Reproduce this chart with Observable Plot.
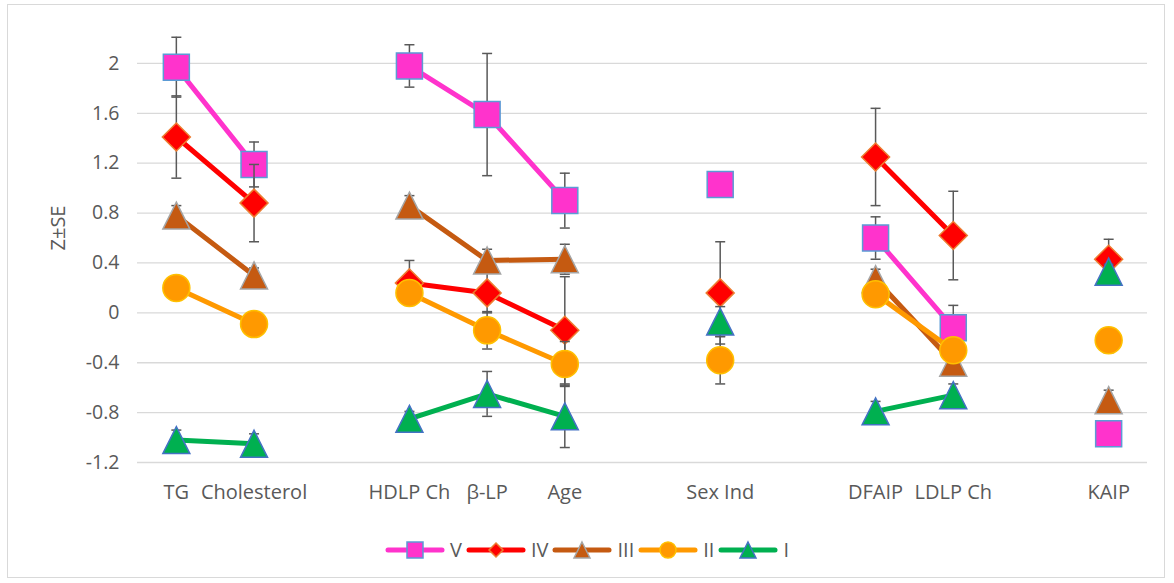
<!DOCTYPE html>
<html><head><meta charset="utf-8">
<script src="https://cdn.jsdelivr.net/npm/d3@7"></script>
<script src="https://cdn.jsdelivr.net/npm/@observablehq/plot@0.6"></script>
<style>
body{margin:0;background:#fff;font-family:"Open Sans",sans-serif;}
#wrap{position:relative;width:1174px;height:583px;overflow:hidden;}
#frame{position:absolute;left:7px;top:4px;width:1158px;height:574px;border:1px solid #d9d9d9;box-sizing:border-box;}
#chart{position:absolute;left:0;top:0;}
#legend{position:absolute;left:0;top:536px;width:1174px;display:flex;justify-content:center;align-items:center;font-size:20px;color:#595959;}
#legend .item{display:flex;align-items:center;margin:0 2px;}
#legend .item span{margin-left:5px;}
</style></head>
<body>
<div id="wrap"><div id="frame"></div><div id="chart"></div><div id="legend"></div></div>
<script>
const categories = ["TG","Cholesterol"," ","HDLP Ch","β-LP","Age","  ","Sex Ind","   ","DFAIP","LDLP Ch","    ","KAIP"];
const seriesNames = ["V","IV","III","II","I"];
const valuesV   = [1.97, 1.19, null, 1.98, 1.59, 0.90, null, 1.03, null, 0.60, -0.12, null, -0.97];
const seV       = [0.24, 0.18, null, 0.17, 0.49, 0.22, null, 0.08, null, 0.17, 0.18, null, 0.10];
const valuesIV  = [1.41, 0.88, null, 0.24, 0.16, -0.14, null, 0.16, null, 1.25, 0.62, null, 0.43];
const seIV      = [0.33, 0.31, null, 0.18, 0.16, 0.43, null, 0.41, null, 0.39, 0.355, null, 0.16];
const valuesIII = [0.78, 0.30, null, 0.86, 0.42, 0.43, null, null, null, 0.27, -0.40, null, -0.70];
const seIII     = [0.08, 0.06, null, 0.08, 0.09, 0.12, null, null, null, 0.08, 0.08, null, 0.08];
const valuesII  = [0.20, -0.09, null, 0.16, -0.14, -0.41, null, -0.38, null, 0.15, -0.30, null, -0.22];
const seII      = [0.08, 0.08, null, 0.08, 0.15, 0.18, null, 0.19, null, 0.08, 0.08, null, 0.10];
const valuesI   = [-1.02, -1.05, null, -0.85, -0.65, -0.83, null, -0.07, null, -0.79, -0.66, null, 0.33];
const seI       = [0.08, 0.08, null, 0.06, 0.18, 0.25, null, 0.12, null, 0.08, 0.09, null, 0.06];
const yTicks = [-1.2, -0.8, -0.4, 0, 0.4, 0.8, 1.2, 1.6, 2];
const yLabel = "Z±SE";

const rad = (size) => Math.sqrt(size / Math.PI);
const symSquare = {draw(c, s){ const r = rad(s); c.rect(-r, -r, 2*r, 2*r); }};
const symDiamond = {draw(c, s){ const r = rad(s); c.moveTo(0,-r); c.lineTo(r,0); c.lineTo(0,r); c.lineTo(-r,0); c.closePath(); }};
const symTriangle = {draw(c, s){ const r = rad(s); c.moveTo(0,-r); c.lineTo(r,r); c.lineTo(-r,r); c.closePath(); }};
const symCircle = {draw(c, s){ const r = rad(s); c.moveTo(r,0); c.arc(0,0,r,0,2*Math.PI); }};
const symCap = {draw(c, s){ const r = rad(s); c.moveTo(-r,0); c.lineTo(r,0); }};

const styles = {
  V:   {line:"#FF33CC", fill:"#FF33CC", stroke:"#5B9BD5", sym:symSquare,   r:13, lr:8},
  IV:  {line:"#FF0000", fill:"#FF0000", stroke:"#ED7D31", sym:symDiamond,  r:14, lr:7},
  III: {line:"#C55A11", fill:"#C55A11", stroke:"#A5A5A5", sym:symTriangle, r:13.5, lr:8},
  II:  {line:"#FF9900", fill:"#FF9900", stroke:"#FFC000", sym:symCircle,   r:13.5, lr:8},
  I:   {line:"#00B050", fill:"#00B050", stroke:"#4472C4", sym:symTriangle, r:13.5, lr:8}
};
const allValues = [valuesV, valuesIV, valuesIII, valuesII, valuesI];
const allSE = [seV, seIV, seIII, seII, seI];

const marks = [Plot.gridY(yTicks, {stroke:"#d9d9d9", strokeOpacity:1, strokeWidth:1.3})];
seriesNames.forEach((s, i) => {
  const st = styles[s];
  const rows = categories.map((c, j) => ({series:s, cat:c, value:allValues[i][j], se:allSE[i][j]}));
  const valid = rows.filter(d => d.value != null);
  const withErr = valid.filter(d => d.se != null);
  marks.push(
    Plot.ruleX(withErr, {x:"cat", y1:d => d.value - d.se, y2:d => d.value + d.se, stroke:"#595959", strokeWidth:1.5}),
    Plot.dot(withErr, {x:"cat", y:d => d.value - d.se, symbol:symCap, r:5, stroke:"#595959", strokeWidth:1.5, fill:"none"}),
    Plot.dot(withErr, {x:"cat", y:d => d.value + d.se, symbol:symCap, r:5, stroke:"#595959", strokeWidth:1.5, fill:"none"}),
    Plot.line(rows, {x:"cat", y:"value", stroke:st.line, strokeWidth:5, curve:"linear"}),
    Plot.dot(valid, {x:"cat", y:"value", symbol:st.sym, r:st.r, fill:st.fill, stroke:st.stroke, strokeWidth:1.5})
  );
});
marks.push(
  Plot.axisX({tickSize:0, tickPadding:22, label:null, fontSize:20}),
  Plot.axisY(yTicks, {tickSize:0, tickPadding:18, label:null, fontSize:19.5, tickFormat:d => String(d)}),
  Plot.text([yLabel], {frameAnchor:"left", dx:-79, rotate:-90, fontSize:20, fill:"#595959"})
);

const chart = Plot.plot({
  width:1174, height:515,
  marginLeft:137, marginRight:27, marginTop:38, marginBottom:53,
  x:{type:"point", domain:categories, padding:0.5, round:false},
  y:{domain:[-1.2, 2.2]},
  style:{fontFamily:"Open Sans, sans-serif", fontSize:"20px", color:"#595959", background:"transparent", overflow:"visible"},
  marks
});
document.getElementById("chart").append(chart);

const legend = document.getElementById("legend");
seriesNames.forEach(s => {
  const st = styles[s];
  const item = document.createElement("div");
  item.className = "item";
  const p = d3.path();
  st.sym.draw(p, Math.PI * st.lr * st.lr);
  item.innerHTML = `<svg width="60" height="22" viewBox="-30 -11 60 22"><line x1="-27" x2="27" y1="0" y2="0" stroke="${st.line}" stroke-width="5" stroke-linecap="round"/><path d="${p.toString()}" fill="${st.fill}" stroke="${st.stroke}" stroke-width="1.5"/></svg><span>${s}</span>`;
  legend.append(item);
});
</script>
</body></html>
